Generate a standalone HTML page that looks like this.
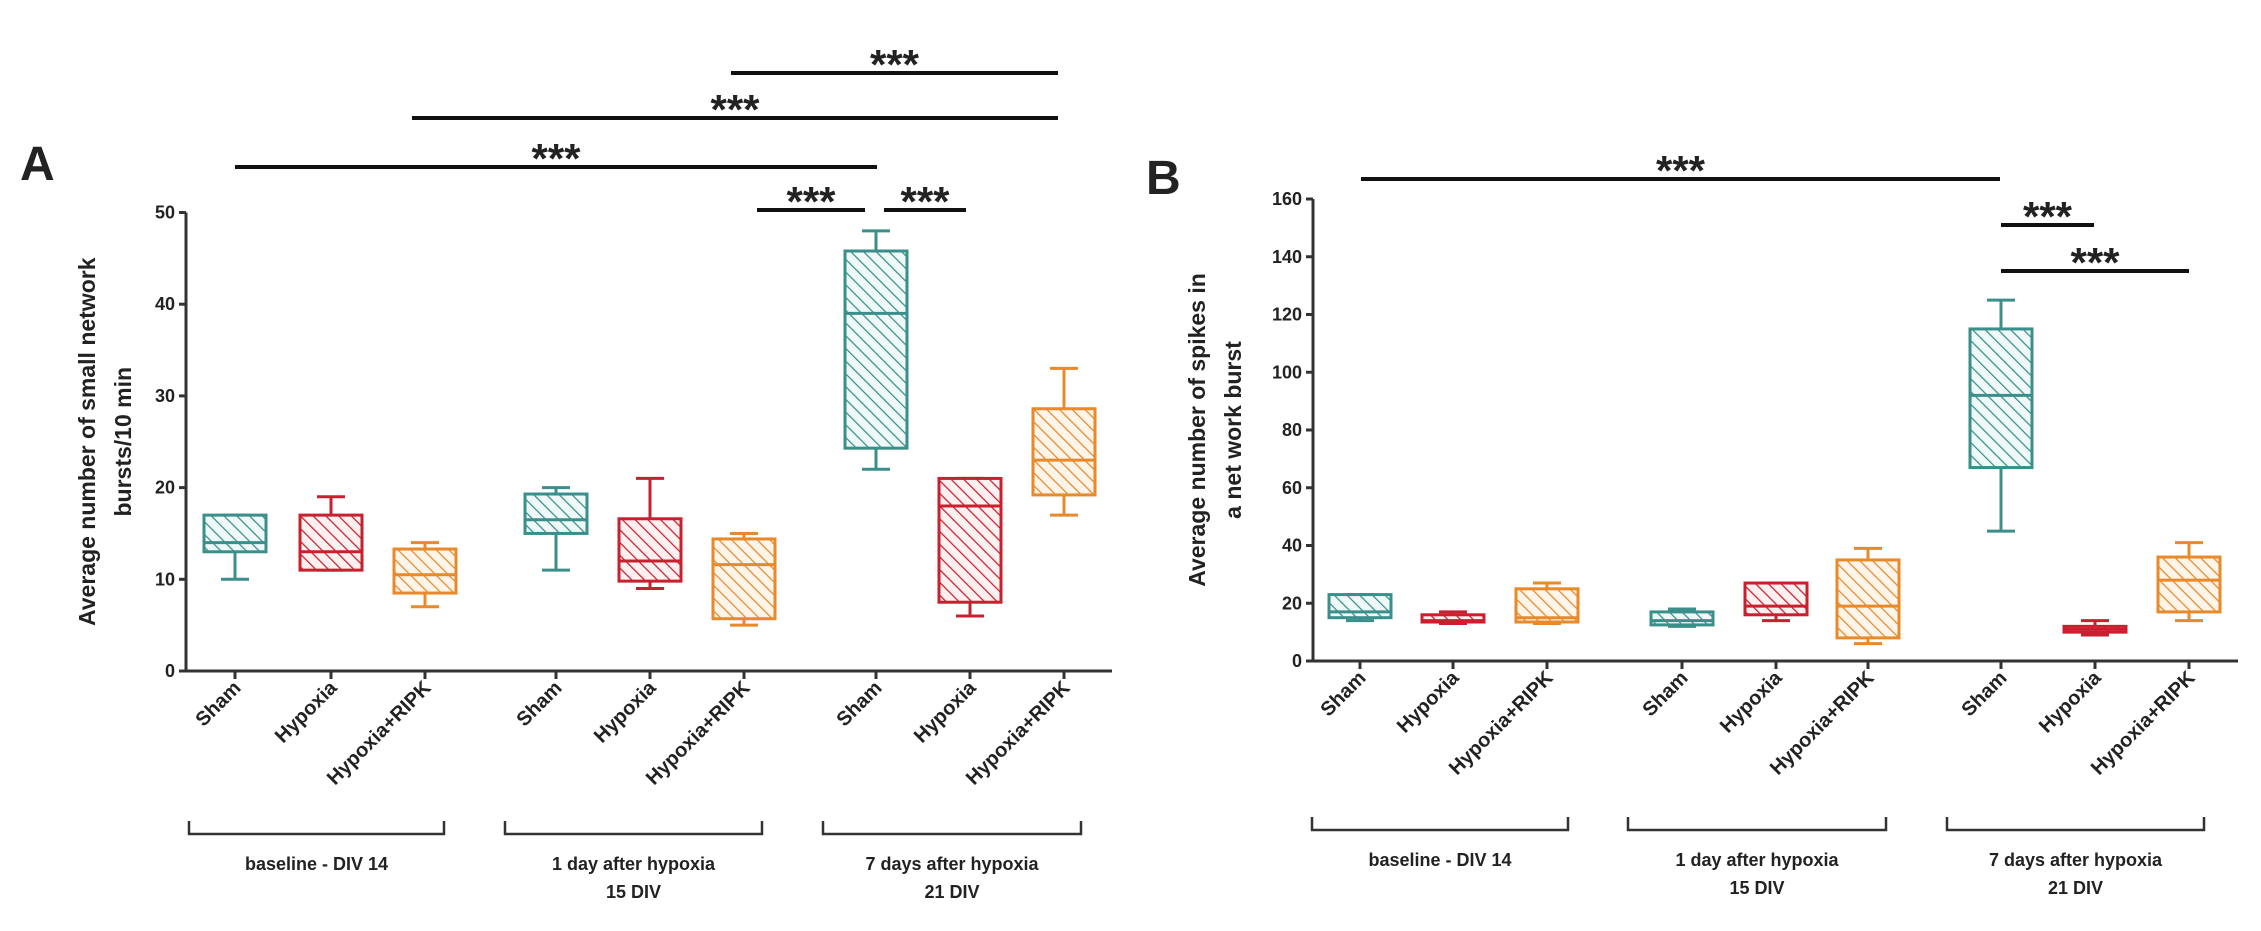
<!DOCTYPE html>
<html><head><meta charset="utf-8">
<style>
html,body{margin:0;padding:0;background:#fff;overflow:hidden;}
svg{display:block;font-family:"Liberation Sans",Arial,sans-serif;}
text{font-weight:bold;fill:#222;}
</style></head>
<body>
<svg id="chart" width="2261" height="931" viewBox="0 0 2261 931" xmlns="http://www.w3.org/2000/svg">
<defs>
<pattern id="hatch-teal" patternUnits="userSpaceOnUse" width="9" height="9" patternTransform="rotate(-45)"><rect width="9" height="9" fill="#eef9f8"/><line x1="0" y1="0" x2="0" y2="9" stroke="#3a8f8a" stroke-width="2.5"/></pattern>
<pattern id="hatch-red" patternUnits="userSpaceOnUse" width="9" height="9" patternTransform="rotate(-45)"><rect width="9" height="9" fill="#fdf0f0"/><line x1="0" y1="0" x2="0" y2="9" stroke="#c8202e" stroke-width="2.5"/></pattern>
<pattern id="hatch-orange" patternUnits="userSpaceOnUse" width="9" height="9" patternTransform="rotate(-45)"><rect width="9" height="9" fill="#fdf4ea"/><line x1="0" y1="0" x2="0" y2="9" stroke="#e8892a" stroke-width="2.5"/></pattern>
</defs>
<g id="panelA"></g>
<g id="panelB"></g>
</svg>
<script>
const categories = ["Sham","Hypoxia","Hypoxia+RIPK","Sham","Hypoxia","Hypoxia+RIPK","Sham","Hypoxia","Hypoxia+RIPK"];
const groupLabels = [["baseline - DIV 14"],["1 day after hypoxia","15 DIV"],["7 days after hypoxia","21 DIV"]];
// Panel A: [min, q1, median, q3, max]
const aMin = [10,11,7,11,9,5,22,6,17];
const aQ1 = [13,11,8.5,15,9.8,5.7,24.3,7.5,19.2];
const aMed = [14,13,10.5,16.5,12,11.6,39,18,23];
const aQ3 = [17,17,13.3,19.3,16.6,14.4,45.8,21,28.6];
const aMax = [17,19,14,20,21,15,48,21,33];
const aTicks = [0,10,20,30,40,50];
// Panel B
const bMin = [14,13,13,12,14,6,45,9,14];
const bQ1 = [15,13.5,13.5,12.5,16,8,67,10,17];
const bMed = [17,14,15,14,19,19,92,11,28];
const bQ3 = [23,16,25,17,27,35,115,12,36];
const bMax = [23,17,27,18,27,39,125,14,41];
const bTicks = [0,20,40,60,80,100,120,140,160];
// significance: [fromIndex, toIndex, level]
const aSig = [[3,8,0],[2,8,1],[0,6,2],[5,6,3],[6,7,3]];
const bSig = [[0,6,0],[6,7,1],[6,8,2]];

const colors = ["#3a8f8a","#c8202e","#e8892a"];
const fills = ["url(#hatch-teal)","url(#hatch-red)","url(#hatch-orange)"];
const NS = "http://www.w3.org/2000/svg";
function el(parent, tag, attrs, txt){
  const e = document.createElementNS(NS, tag);
  for (const k in attrs) e.setAttribute(k, attrs[k]);
  if (txt !== undefined) e.textContent = txt;
  parent.appendChild(e);
  return e;
}

function drawPanel(g, cfg){
  const y = v => cfg.y0 - (v - cfg.vmin) * (cfg.y0 - cfg.yTop) / (cfg.vmax - cfg.vmin);
  const x = i => cfg.xs[i];
  const L = el(g,"text",{x:cfg.letterX,y:cfg.letterY,"font-size":48,fill:"#111"},cfg.letter);
  
  
  const ya = el(g,"line",{x1:cfg.axX,y1:cfg.yTop,x2:cfg.axX,y2:cfg.y0+1,stroke:"#333","stroke-width":3});
  
  
  const xa = el(g,"line",{x1:cfg.axX-1,y1:cfg.y0,x2:cfg.axEnd,y2:cfg.y0,stroke:"#333","stroke-width":3});
  
  
  cfg.ticks.forEach(t=>{
    const tl = el(g,"line",{x1:cfg.axX-7,y1:y(t),x2:cfg.axX,y2:y(t),stroke:"#333","stroke-width":3});
    
    
    const tt = el(g,"text",{x:cfg.axX-11,y:y(t)+6,"text-anchor":"end","font-size":18},String(t));
    
    
  });
  const yt = el(g,"text",{transform:`translate(${cfg.titleX},${(cfg.y0+cfg.yTop)/2}) rotate(-90)`,"text-anchor":"middle","font-size":23});
  
  
  cfg.title.forEach((s,k)=>{ el(yt,"tspan",{x:0,dy:k===0?0:36},s); });
  const hw = 31;
  categories.forEach((c,i)=>{
    const col = colors[i%3];
    const bg = el(g,"g",{});
    
    
    const cx = x(i);
    el(bg,"line",{x1:cx,y1:y(cfg.max[i]),x2:cx,y2:y(cfg.q3[i]),stroke:col,"stroke-width":3});
    el(bg,"line",{x1:cx,y1:y(cfg.q1[i]),x2:cx,y2:y(cfg.min[i]),stroke:col,"stroke-width":3});
    el(bg,"line",{x1:cx-14,y1:y(cfg.max[i]),x2:cx+14,y2:y(cfg.max[i]),stroke:col,"stroke-width":3});
    el(bg,"line",{x1:cx-14,y1:y(cfg.min[i]),x2:cx+14,y2:y(cfg.min[i]),stroke:col,"stroke-width":3});
    el(bg,"rect",{x:cx-hw,y:y(cfg.q3[i]),width:2*hw,height:Math.max(2,y(cfg.q1[i])-y(cfg.q3[i])),fill:fills[i%3],stroke:col,"stroke-width":3});
    el(bg,"line",{x1:cx-hw,y1:y(cfg.med[i]),x2:cx+hw,y2:y(cfg.med[i]),stroke:col,"stroke-width":3});
    el(g,"line",{x1:cx,y1:cfg.y0,x2:cx,y2:cfg.y0+8,stroke:"#333","stroke-width":3});
    const xl = el(g,"text",{transform:`translate(${cx+7},${cfg.y0+18}) rotate(-45)`,"text-anchor":"end","font-size":20},c);
    
    
  });
  cfg.brackets.forEach((b,k)=>{
    const bk = el(g,"path",{d:`M${b[0]},${cfg.brY-13} V${cfg.brY} H${b[1]} V${cfg.brY-13}`,fill:"none",stroke:"#333","stroke-width":2.5});
    
    
    const gl = el(g,"text",{x:(b[0]+b[1])/2,y:cfg.brY+36,"text-anchor":"middle","font-size":18});
    
    
    groupLabels[k].forEach((s,j)=>{ el(gl,"tspan",{x:(b[0]+b[1])/2,dy:j===0?0:28},s); });
  });
  cfg.sig.forEach(s=>{
    const yy = cfg.sigY[s[2]];
    const key = s[0]+'-'+s[1];
    const x1 = cfg.sigX[key] ? cfg.sigX[key][0] : x(s[0]);
    const x2 = cfg.sigX[key] ? cfg.sigX[key][1] : x(s[1]);
    const sl = el(g,"line",{x1:x1,y1:yy,x2:x2,y2:yy,stroke:"#111","stroke-width":4});
    
    
    const st = el(g,"text",{x:(x1+x2)/2,y:yy+6,"text-anchor":"middle","font-size":42,fill:"#111"},"***");
    
    
  });
}

drawPanel(document.getElementById('panelA'),{
  letter:"A",letterX:20,letterY:180,
  y0:671,yTop:212.5,vmin:0,vmax:50,axX:186,axEnd:1112,
  xs:[235,331,425,556,650,744,876,970,1064],
  ticks:aTicks,min:aMin,q1:aQ1,med:aMed,q3:aQ3,max:aMax,
  title:["Average number of small network","bursts/10 min"],titleX:95,
  brY:834,brackets:[[189,444],[505,762],[823,1081]],
  sig:aSig,sigY:[73,118,167,210],
  sigX:{"3-8":[731,1058],"2-8":[412,1058],"0-6":[235,877],"5-6":[757,865],"6-7":[884,966]}
});
drawPanel(document.getElementById('panelB'),{
  letter:"B",letterX:1146,letterY:194,
  y0:661,yTop:199,vmin:0,vmax:160,axX:1313,axEnd:2238,
  xs:[1360,1453,1547,1682,1776,1868,2001,2095,2189],
  ticks:bTicks,min:bMin,q1:bQ1,med:bMed,q3:bQ3,max:bMax,
  title:["Average number of spikes in","a net work burst"],titleX:1205,
  brY:830,brackets:[[1312,1568],[1628,1886],[1947,2204]],
  sig:bSig,sigY:[179,225,271],
  sigX:{"0-6":[1361,2000],"6-7":[2001,2094],"6-8":[2001,2189]}
});
</script>
</body></html>
